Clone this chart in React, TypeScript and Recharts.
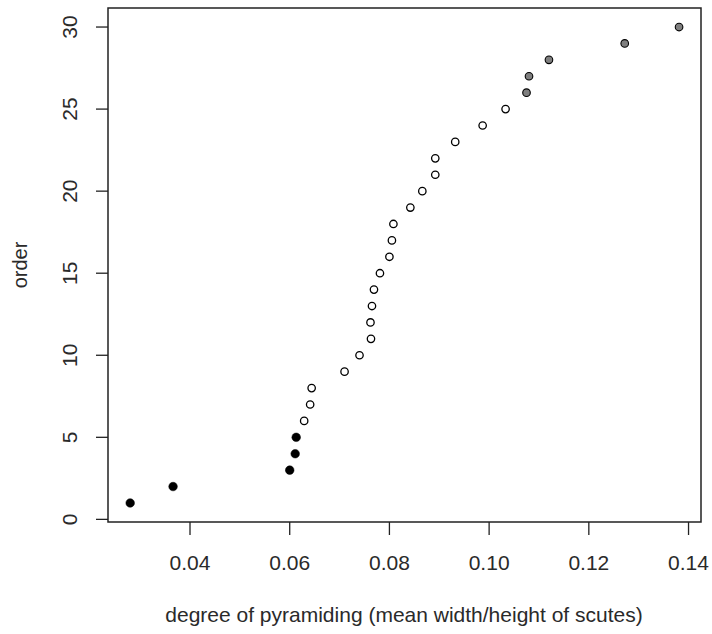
import React from "react";
import { ScatterChart, Scatter, XAxis, YAxis, ReferenceArea } from "recharts";

const blackX = [0.028, 0.0366, 0.06, 0.0611, 0.0613];
const blackOrder = [1, 2, 3, 4, 5];
const openX = [0.0629, 0.0641, 0.0644, 0.071, 0.074, 0.0763, 0.0762, 0.0765, 0.0769, 0.0781, 0.08, 0.0805, 0.0808, 0.0842, 0.0866, 0.0892, 0.0892, 0.0932, 0.0987, 0.1033];
const openOrder = [6, 7, 8, 9, 10, 11, 12, 13, 14, 15, 16, 17, 18, 19, 20, 21, 22, 23, 24, 25];
const grayX = [0.1075, 0.108, 0.112, 0.1272, 0.1381];
const grayOrder = [26, 27, 28, 29, 30];
const xTicks = [0.04, 0.06, 0.08, 0.1, 0.12, 0.14];
const yTicks = [0, 5, 10, 15, 20, 25, 30];

const toData = (xs: number[], ys: number[]) => xs.map((x, i) => ({ x, y: ys[i] }));
const blackData = toData(blackX, blackOrder);
const openData = toData(openX, openOrder);
const grayData = toData(grayX, grayOrder);

const xDomain: [number, number] = [0.02355, 0.1425];
const yDomain: [number, number] = [-0.16, 31.16];
const FONT = "'Liberation Sans', Arial, sans-serif";
const TXT = "#2a2a2a";

const mkShape = (fill: string, r: number, stroke: string, sw: number) => (p: any) => (
  <circle cx={p.cx} cy={p.cy} r={r} fill={fill} stroke={stroke} strokeWidth={sw} />
);

const XTick = (p: any) => {
  const { x, payload } = p;
  return (
    <g>
      <line x1={x} x2={x} y1={522} y2={535} stroke="#222" strokeWidth={1.3} />
      <text x={x} y={570} textAnchor="middle" fontFamily={FONT} fontSize={21} fill={TXT}>
        {Number(payload.value).toFixed(2)}
      </text>
    </g>
  );
};

const YTick = (p: any) => {
  const { y, payload } = p;
  return (
    <g>
      <line x1={96} x2={108} y1={y} y2={y} stroke="#222" strokeWidth={1.3} />
      <text
        x={70}
        y={y}
        transform={`rotate(-90, 70, ${y})`}
        textAnchor="middle"
        dominantBaseline="central"
        fontFamily={FONT}
        fontSize={21}
        fill={TXT}
      >
        {payload.value}
      </text>
    </g>
  );
};

export default function App() {
  return (
    <div style={{ position: "absolute", left: 0, top: 0, width: 712, height: 634, background: "#fff" }}>
      <ScatterChart width={712} height={634} margin={{ top: 8, right: 11, bottom: 0, left: 0 }}>
        <XAxis
          type="number"
          dataKey="x"
          domain={xDomain}
          ticks={xTicks}
          allowDataOverflow
          axisLine={false}
          tickLine={false}
          tick={<XTick />}
          height={112}
        />
        <YAxis
          type="number"
          dataKey="y"
          domain={yDomain}
          ticks={yTicks}
          allowDataOverflow
          axisLine={false}
          tickLine={false}
          tick={<YTick />}
          width={108}
        />
        <ReferenceArea
          x1={xDomain[0]}
          x2={xDomain[1]}
          y1={yDomain[0]}
          y2={yDomain[1]}
          fill="none"
          stroke="#222"
          strokeWidth={1.5}
          fillOpacity={0}
        />
        <Scatter data={blackData} isAnimationActive={false} shape={mkShape("#000", 4.3, "#000", 0.5)} />
        <Scatter data={openData} isAnimationActive={false} shape={mkShape("#fff", 3.7, "#000", 1.3)} />
        <Scatter data={grayData} isAnimationActive={false} shape={mkShape("#7f7f7f", 3.8, "#000", 1.1)} />
        <text x={404} y={622} textAnchor="middle" fontFamily={FONT} fontSize={21} fill={TXT}>
          degree of pyramiding (mean width/height of scutes)
        </text>
        <text
          x={27}
          y={265}
          transform="rotate(-90, 27, 265)"
          textAnchor="middle"
          fontFamily={FONT}
          fontSize={20}
          fill={TXT}
        >
          order
        </text>
      </ScatterChart>
    </div>
  );
}
